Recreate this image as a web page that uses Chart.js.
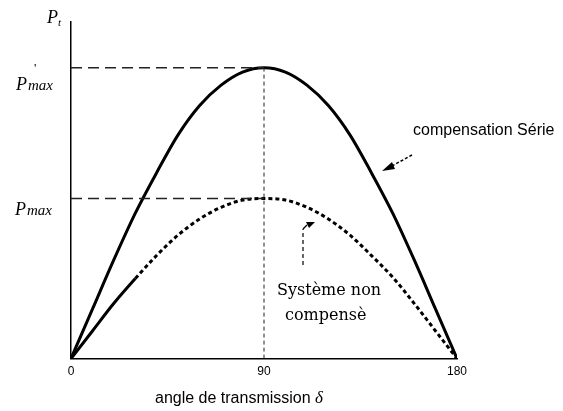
<!DOCTYPE html>
<html>
<head>
<meta charset="utf-8">
<script src="https://cdn.jsdelivr.net/npm/chart.js@4"></script>
<style>
  html, body { margin: 0; background: #fff; }
  #wrap { width: 563px; height: 411px; }
</style>
</head>
<body>
<div id="wrap"><canvas id="chart"></canvas></div>
<script>
// angle de transmission (degrés)
const angles = [0, 10, 20, 30, 40, 50, 60, 70, 80, 90, 100, 110, 120, 130, 140, 150, 160, 170, 180];
// compensation série (courbe pleine)
const compensated = [0, 0.17, 0.34, 0.5, 0.64, 0.77, 0.87, 0.94, 0.985, 1, 0.985, 0.94, 0.87, 0.77, 0.64, 0.5, 0.34, 0.17, 0];
// système non compensé (courbe pointillée)
const uncompensated = [0, 0.095, 0.19, 0.275, 0.355, 0.425, 0.48, 0.52, 0.545, 0.55, 0.545, 0.52, 0.48, 0.425, 0.355, 0.28, 0.19, 0.095, 0];
const xTicks = [0, 90, 180];
const pMaxComp = 1;    // P'max
const pMax = 0.55;     // Pmax
const deltaPeak = 90;

const toPoints = (ys) => angles.map((a, i) => ({ x: a, y: ys[i] }));

// textes et flèches
const annotations = {
  id: "annotations",
  afterDraw(chart) {
    const { ctx, scales } = chart;
    const y = scales.y;
    ctx.save();
    ctx.fillStyle = "#000";
    ctx.textBaseline = "alphabetic";

    // P_t
    ctx.font = "italic 18px 'Liberation Serif'";
    ctx.fillText("P", 47, 23);
    ctx.font = "italic 11px 'Liberation Serif'";
    ctx.fillText("t", 58, 26);

    // P'max
    const yPc = y.getPixelForValue(pMaxComp);
    ctx.font = "italic 18px 'Liberation Serif'";
    ctx.fillText("P", 16, yPc + 22);
    ctx.font = "italic 15px 'Liberation Serif'";
    ctx.fillText("max", 28, yPc + 22);
    ctx.font = "13px 'Liberation Serif'";
    ctx.fillText("'", 34, yPc + 4);

    // Pmax
    const yP = y.getPixelForValue(pMax);
    ctx.font = "italic 18px 'Liberation Serif'";
    ctx.fillText("P", 15, yP + 16);
    ctx.font = "italic 15px 'Liberation Serif'";
    ctx.fillText("max", 27, yP + 16);

    // titre de l'axe x
    ctx.font = "16px 'Liberation Sans'";
    const t = "angle de transmission ";
    ctx.fillText(t, 155, 403);
    const w = ctx.measureText(t).width;
    ctx.font = "italic 17px 'Liberation Serif'";
    ctx.fillText("\u03b4", 155 + w, 403);

    // compensation Série
    ctx.font = "16px 'Liberation Sans'";
    ctx.fillText("compensation Série", 413, 135);
    ctx.strokeStyle = "#000";
    ctx.lineWidth = 1.5;
    ctx.setLineDash([3, 2]);
    ctx.beginPath();
    ctx.moveTo(412, 155);
    ctx.lineTo(390, 167);
    ctx.stroke();
    ctx.setLineDash([]);
    ctx.beginPath();
    ctx.moveTo(382, 171);
    ctx.lineTo(392, 162);
    ctx.lineTo(395, 169);
    ctx.closePath();
    ctx.fill();

    // Système non compensè
    ctx.font = "16px 'DejaVu Serif'";
    ctx.fillText("Système non", 277, 295);
    ctx.fillText("compensè", 285, 320);
    ctx.lineWidth = 1.2;
    ctx.setLineDash([4, 3]);
    ctx.beginPath();
    ctx.moveTo(303, 265);
    ctx.lineTo(303, 229);
    ctx.stroke();
    ctx.setLineDash([]);
    ctx.beginPath();
    ctx.moveTo(303, 229);
    ctx.lineTo(307, 225);
    ctx.stroke();
    ctx.beginPath();
    ctx.moveTo(315, 222);
    ctx.lineTo(306, 222);
    ctx.lineTo(309, 228);
    ctx.closePath();
    ctx.fill();

    ctx.restore();
  },
};

new Chart(document.getElementById("chart"), {
  type: "line",
  data: {
    datasets: [
      {
        data: [{ x: 0, y: pMaxComp }, { x: deltaPeak, y: pMaxComp }],
        borderColor: "#222",
        borderWidth: 1.5,
        borderDash: [11, 6],
        pointRadius: 0,
      },
      {
        data: [{ x: 0, y: pMax }, { x: deltaPeak, y: pMax }],
        borderColor: "#222",
        borderWidth: 1.5,
        borderDash: [11, 6],
        pointRadius: 0,
      },
      {
        data: [{ x: deltaPeak, y: 0 }, { x: deltaPeak, y: pMaxComp }],
        borderColor: "#222",
        borderWidth: 1,
        borderDash: [4, 3],
        pointRadius: 0,
      },
      {
        label: "compensation Série",
        data: toPoints(compensated),
        borderColor: "#000",
        borderWidth: 3,
        pointRadius: 0,
        cubicInterpolationMode: "monotone",
      },
      {
        label: "Système non compensè",
        data: toPoints(uncompensated),
        borderColor: "#000",
        borderWidth: 3,
        pointRadius: 0,
        cubicInterpolationMode: "monotone",
        segment: {
          borderDash: (c) => (c.p0.parsed.x >= 30 ? [4, 3] : undefined),
        },
      },
    ],
  },
  options: {
    responsive: true,
    maintainAspectRatio: false,
    animation: false,
    layout: { padding: { left: 71, right: 106, top: 22, bottom: 26 } },
    plugins: { legend: { display: false }, tooltip: { enabled: false } },
    scales: {
      x: {
        type: "linear",
        min: 0,
        max: 180,
        afterBuildTicks: (axis) => {
          axis.ticks = xTicks.map((v) => ({ value: v }));
        },
        grid: { display: false, drawTicks: false },
        border: { display: true, color: "#000", width: 1.5 },
        ticks: {
          color: "#000",
          padding: 6,
          font: { family: "'Liberation Sans'", size: 12 },
        },
      },
      y: {
        min: 0,
        max: 1.157,
        grid: { display: false, drawTicks: false },
        border: { display: true, color: "#000", width: 1.5 },
        ticks: { display: false },
      },
    },
  },
  plugins: [annotations],
});
</script>
</body>
</html>
